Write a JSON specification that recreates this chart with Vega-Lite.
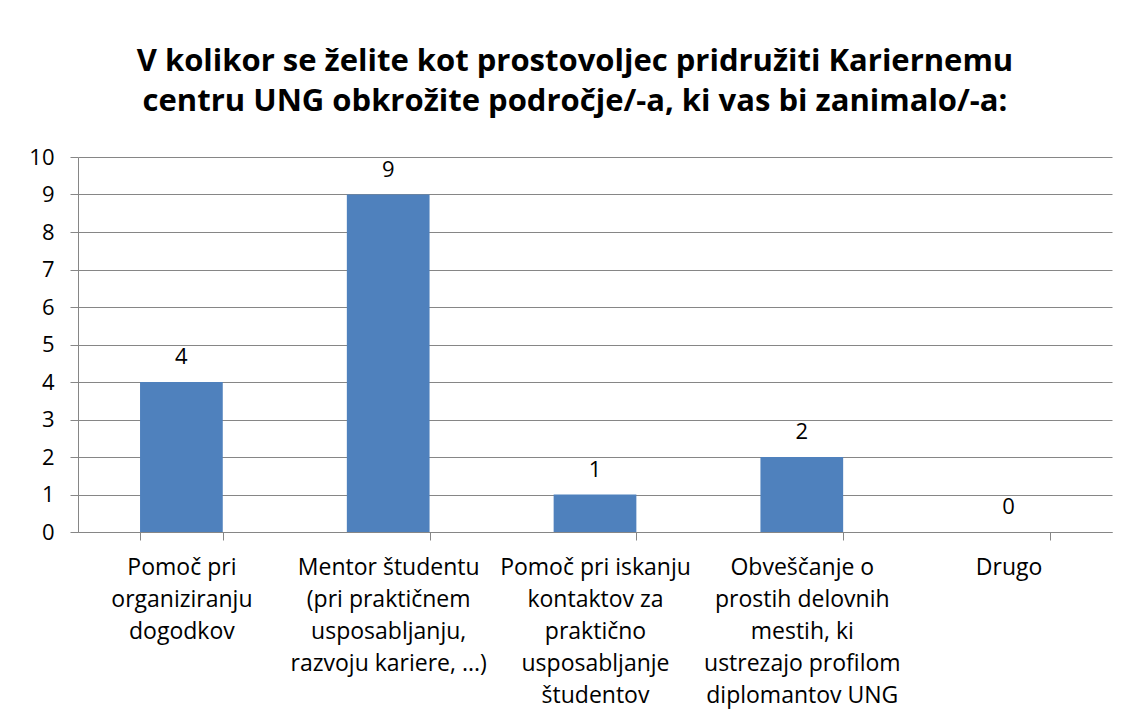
{
  "$schema": "https://vega.github.io/schema/vega-lite/v6.json",
  "width": 1034,
  "height": 375,
  "autosize": "none",
  "padding": {"left": 78, "top": 157, "right": 18, "bottom": 189},
  "background": "white",
  "title": {
    "text": ["V kolikor se želite kot prostovoljec pridružiti Kariernemu", "centru UNG obkrožite področje/-a, ki vas bi zanimalo/-a:"],
    "font": "Open Sans",
    "fontSize": 31,
    "fontWeight": "bold",
    "color": "black",
    "lineHeight": 40,
    "anchor": "middle",
    "offset": 28,
    "dx": -20
  },
  "data": {
    "values": [
      {"category": "Pomoč pri|organiziranju|dogodkov", "value": 4},
      {"category": "Mentor študentu|(pri praktičnem|usposabljanju,|razvoju kariere, ...)", "value": 9},
      {"category": "Pomoč pri iskanju|kontaktov za|praktično|usposabljanje|študentov", "value": 1},
      {"category": "Obveščanje o|prostih delovnih|mestih, ki|ustrezajo profilom|diplomantov UNG", "value": 2},
      {"category": "Drugo", "value": 0}
    ]
  },
  "encoding": {
    "x": {
      "field": "category",
      "type": "nominal",
      "sort": null,
      "scale": {"paddingInner": 0.6, "paddingOuter": 0.3},
      "axis": {
        "title": null,
        "labelAngle": 0,
        "labelExpr": "split(datum.label, '|')",
        "labelFont": "Open Sans",
        "labelFontSize": 23,
        "labelColor": "black",
        "labelLineHeight": 32,
        "labelPadding": 16,
        "labelLimit": 400,
        "tickBand": "extent",
        "tickSize": 8,
        "tickColor": "#868686",
        "domainColor": "#868686",
        "grid": false
      }
    },
    "y": {
      "field": "value",
      "type": "quantitative",
      "scale": {"domain": [0, 10], "nice": false},
      "axis": {
        "title": null,
        "values": [0, 1, 2, 3, 4, 5, 6, 7, 8, 9, 10],
        "labelFont": "Open Sans",
        "labelFontSize": 22,
        "labelColor": "black",
        "labelPadding": 16,
        "tickSize": 8,
        "tickColor": "#868686",
        "domainColor": "#868686",
        "gridColor": "#868686",
        "grid": true
      }
    }
  },
  "layer": [
    {"mark": {"type": "bar", "color": "#4F81BD"}},
    {
      "mark": {"type": "text", "baseline": "bottom", "dy": -13, "font": "Open Sans", "fontSize": 22, "color": "black"},
      "encoding": {"text": {"field": "value", "type": "quantitative"}}
    }
  ],
  "config": {"view": {"stroke": null}}
}
